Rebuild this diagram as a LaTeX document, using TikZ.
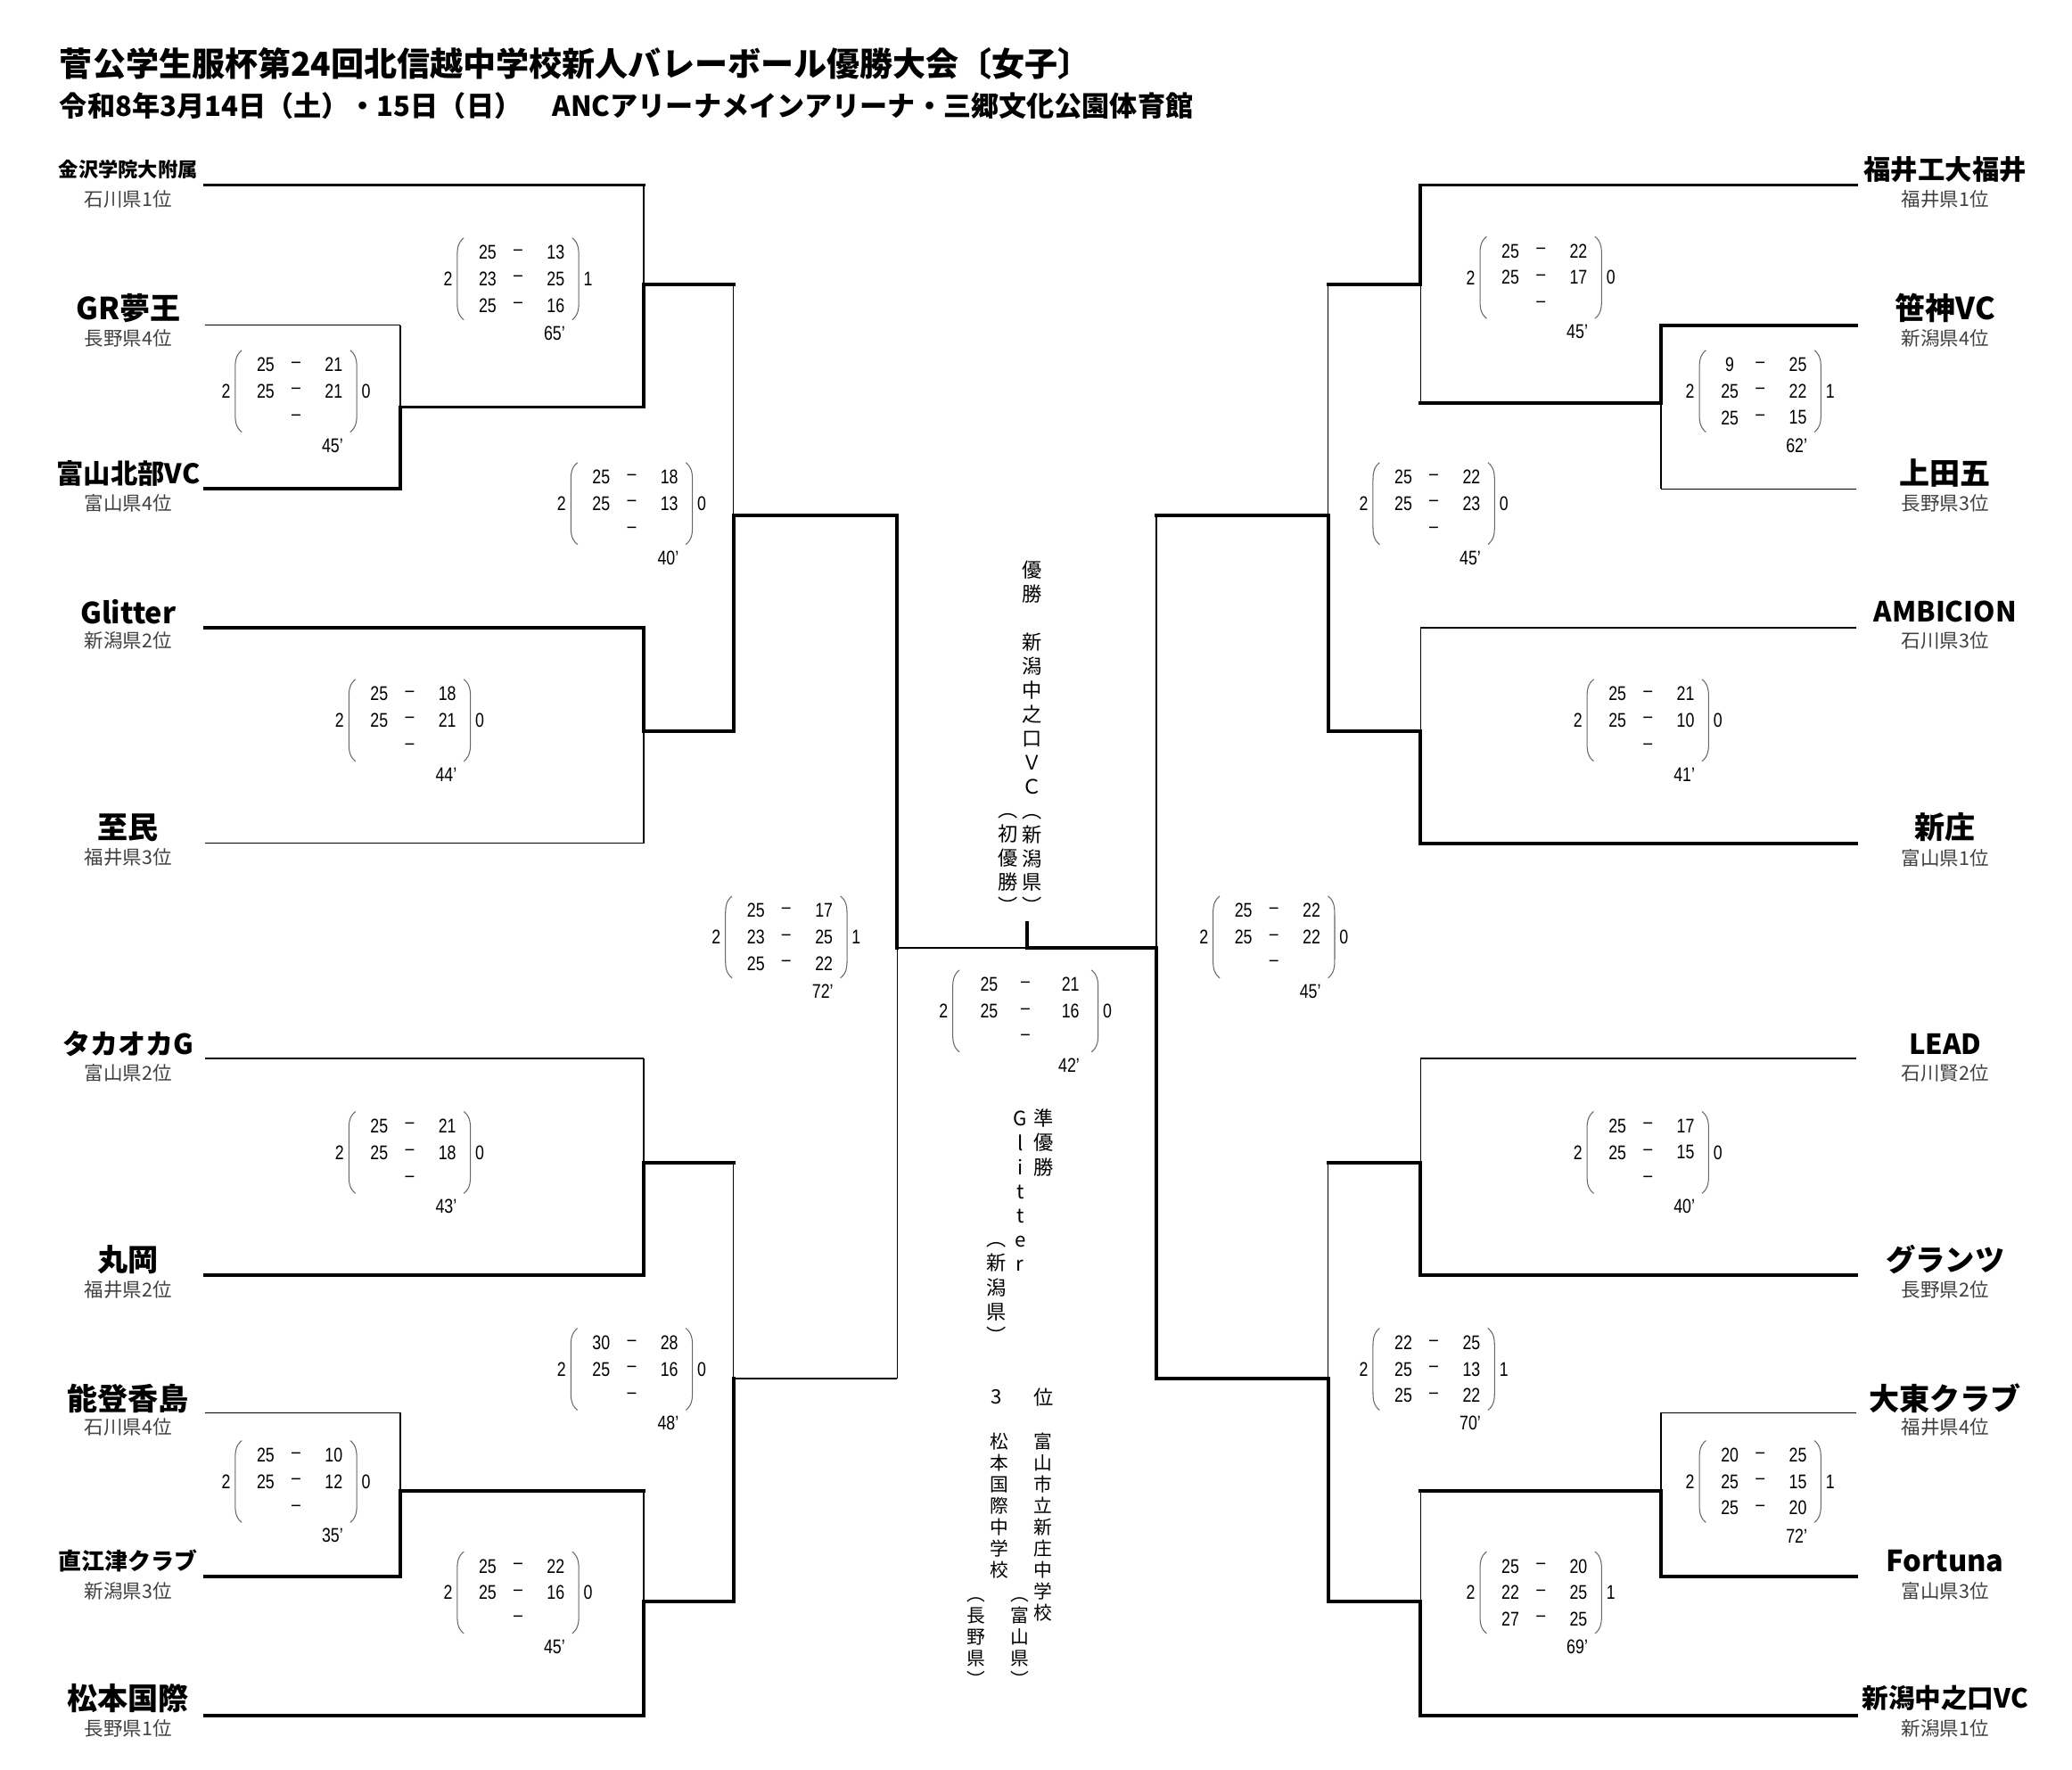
\documentclass[tikz,border=0pt]{standalone}
\usepackage{fontspec}
\setmainfont{Noto Sans CJK JP}
\newfontfamily\numfont{Liberation Sans}[FakeStretch=0.8]
\usetikzlibrary{calc}

\newcommand{\fs}[1]{\fontsize{#1}{#1}\selectfont}
\newcommand{\vs}{\vphantom{国}}

\tikzset{
  win/.style={line width=2.6pt, line cap=rect},
  lose/.style={line width=1.1pt},
  paren/.style={line width=0.7pt, black!60},
  team/.style={font=\fs{#1}\bfseries, inner sep=0},
  team/.default=23,
  pref/.style={font=\fs{14.5}, text=black!75, inner sep=0},
  pts/.style={font=\numfont\fs{15}, inner sep=0},
  vert/.style={align=center, inner sep=0, anchor=north},
}

% one match of the bracket: top, bottom, junction, then the four segment styles
\newcommand{\bout}[7]{%
  \draw[#4] (#1) -- (#1 -| #3);
  \draw[#5] (#1 -| #3) -- (#3);
  \draw[#6] (#2) -- (#2 -| #3);
  \draw[#7] (#2 -| #3) -- (#3);}

% set scores of a match
\newcommand{\scorebox}[7][46]{%
  \begin{scope}[shift={(#3)}]
    \draw[paren] (-#1+5,-31) .. controls (-#1,-27) and (-#1,-22) .. (-#1,-16) -- (-#1,16) .. controls (-#1,22) and (-#1,27) .. (-#1+5,31);
    \draw[paren] (#1-5,-31) .. controls (#1,-27) and (#1,-22) .. (#1,-16) -- (#1,16) .. controls (#1,22) and (#1,27) .. (#1-5,31);
    \node[pts] (#2-l) at (-#1-7,0) {#4};
    \node[pts] (#2-r) at (#1+7,0) {#5};
    \foreach \a/\b [count=\i] in {#6} {
      \node[pts] (#2-a\i) at (-0.5*#1,-40+20*\i) {\a};
      \node[pts] (#2-d\i) at (0,-40+20*\i) {–};
      \node[pts] (#2-b\i) at (0.62*#1,-40+20*\i) {\b};
    }
    \node[pts] (#2-t) at (0.6*#1,41) {#7};
  \end{scope}}

\begin{document}
\begin{tikzpicture}[x=1pt, y=-1pt]
\useasboundingbox (0,0) rectangle (1568,1339);

% title
\node[anchor=west, inner sep=0, font=\fs{25}\bfseries] (title) at (45,48) {菅公学生服杯第24回北信越中学校新人バレーボール優勝大会〔女子〕};
\node[anchor=west, inner sep=0, font=\fs{21}\bfseries] (date) at (45,80) {令和8年3月14日（土）・15日（日）\hspace{1.1em}ANCアリーナメインアリーナ・三郷文化公園体育館};

% left teams
\node[team=15] (kanazawa) at (97,128) {金沢学院大附属};
\node[pref] (kanazawa-p) at (97,151) {石川県1位};
\node[team] (gr) at (97,233) {GR夢王};
\node[pref] (gr-p) at (97,256) {長野県4位};
\node[team=20.5] (hokubu) at (97,358) {富山北部VC};
\node[pref] (hokubu-p) at (97,381) {富山県4位};
\node[team=22] (glitter) at (97,463) {Glitter};
\node[pref] (glitter-p) at (97,485) {新潟県2位};
\node[team] (shimin) at (97,626) {至民};
\node[pref] (shimin-p) at (97,649) {福井県3位};
\node[team=21] (takaoka) at (97,790) {タカオカG};
\node[pref] (takaoka-p) at (97,812) {富山県2位};
\node[team] (maruoka) at (97,953) {丸岡};
\node[pref] (maruoka-p) at (97,976) {福井県2位};
\node[team] (noto) at (97,1058) {能登香島};
\node[pref] (noto-p) at (97,1080) {石川県4位};
\node[team=17.5] (naoetsu) at (97,1181) {直江津クラブ};
\node[pref] (naoetsu-p) at (97,1204) {新潟県3位};
\node[team] (matsumoto) at (97,1285) {松本国際};
\node[pref] (matsumoto-p) at (97,1308) {長野県1位};

% right teams
\node[team=20.5] (fukui) at (1472,128) {福井工大福井};
\node[pref] (fukui-p) at (1472,151) {福井県1位};
\node[team] (sasakami) at (1472,233) {笹神VC};
\node[pref] (sasakami-p) at (1472,256) {新潟県4位};
\node[team] (ueda) at (1472,358) {上田五};
\node[pref] (ueda-p) at (1472,381) {長野県3位};
\node[team=21] (ambicion) at (1472,463) {AMBICION};
\node[pref] (ambicion-p) at (1472,485) {石川県3位};
\node[team] (shinjo) at (1472,626) {新庄};
\node[pref] (shinjo-p) at (1472,649) {富山県1位};
\node[team=21] (lead) at (1472,790) {LEAD};
\node[pref] (lead-p) at (1472,812) {石川賢2位};
\node[team=22.5] (grants) at (1472,953) {グランツ};
\node[pref] (grants-p) at (1472,976) {長野県2位};
\node[team] (daito) at (1472,1058) {大東クラブ};
\node[pref] (daito-p) at (1472,1080) {福井県4位};
\node[team=22] (fortuna) at (1472,1181) {Fortuna};
\node[pref] (fortuna-p) at (1472,1204) {富山県3位};
\node[team=20] (nakanokuchi) at (1472,1285) {新潟中之口VC};
\node[pref] (nakanokuchi-p) at (1472,1308) {新潟県1位};

% line ends
\coordinate (L1) at (155,140);  \coordinate (R1) at (1405,140);
\coordinate (L2) at (155,246);  \coordinate (R2) at (1405,246);
\coordinate (L3) at (155,370);  \coordinate (R3) at (1405,370);
\coordinate (L4) at (155,475);  \coordinate (R4) at (1405,475);
\coordinate (L5) at (155,638);  \coordinate (R5) at (1405,638);
\coordinate (L6) at (155,801);  \coordinate (R6) at (1405,801);
\coordinate (L7) at (155,965);  \coordinate (R7) at (1405,965);
\coordinate (L8) at (155,1069); \coordinate (R8) at (1405,1069);
\coordinate (L9) at (155,1193); \coordinate (R9) at (1405,1193);
\coordinate (L10) at (155,1298); \coordinate (R10) at (1405,1298);

% junctions
\coordinate (jA) at (303,308);  \coordinate (kA) at (1257,305);
\coordinate (jB) at (487,215);  \coordinate (kB) at (1075,215);
\coordinate (jC) at (487,553);  \coordinate (kC) at (1075,553);
\coordinate (jD) at (555,390);  \coordinate (kD) at (1005,390);
\coordinate (jE) at (487,880);  \coordinate (kE) at (1075,880);
\coordinate (jF) at (303,1128); \coordinate (kF) at (1257,1128);
\coordinate (jG) at (487,1212); \coordinate (kG) at (1075,1212);
\coordinate (jH) at (555,1043); \coordinate (kH) at (1005,1043);
\coordinate (jI) at (679,717);  \coordinate (kI) at (875,717);
\coordinate (cup) at (777,698); \coordinate (fin) at (777,717);

% left bracket
\bout{L2}{L3}{jA}{lose}{lose}{win}{win}
\bout{L1}{jA}{jB}{win}{lose}{win}{win}
\bout{L4}{L5}{jC}{win}{win}{lose}{lose}
\bout{jB}{jC}{jD}{win}{lose}{win}{win}
\bout{L6}{L7}{jE}{lose}{lose}{win}{win}
\bout{L8}{L9}{jF}{lose}{lose}{win}{win}
\bout{jF}{L10}{jG}{win}{lose}{win}{win}
\bout{jE}{jG}{jH}{win}{lose}{win}{win}
\bout{jD}{jH}{jI}{win}{win}{lose}{lose}

% right bracket
\bout{R2}{R3}{kA}{win}{win}{lose}{lose}
\bout{R1}{kA}{kB}{win}{win}{win}{lose}
\bout{R4}{R5}{kC}{lose}{lose}{win}{win}
\bout{kB}{kC}{kD}{win}{lose}{win}{win}
\bout{R6}{R7}{kE}{lose}{lose}{win}{win}
\bout{R8}{R9}{kF}{lose}{lose}{win}{win}
\bout{kF}{R10}{kG}{win}{lose}{win}{win}
\bout{kE}{kG}{kH}{win}{lose}{win}{win}
\bout{kD}{kH}{kI}{win}{lose}{win}{win}

% final
\draw[lose] (jI) -- (fin);
\draw[win] (cup) -- (fin) -- (kI);

% scores, left
\scorebox{sA}{224,296}{2}{0}{25/21,25/21,{}/{}}{45’}
\scorebox{sB}{392,211}{2}{1}{25/13,23/25,25/16}{65’}
\scorebox{sC}{310,545}{2}{0}{25/18,25/21,{}/{}}{44’}
\scorebox{sD}{478,381}{2}{0}{25/18,25/13,{}/{}}{40’}
\scorebox{sE}{310,872}{2}{0}{25/21,25/18,{}/{}}{43’}
\scorebox{sF}{224,1121}{2}{0}{25/10,25/12,{}/{}}{35’}
\scorebox{sG}{392,1205}{2}{0}{25/22,25/16,{}/{}}{45’}
\scorebox{sH}{478,1036}{2}{0}{30/28,25/16,{}/{}}{48’}
\scorebox{sI}{595,709}{2}{1}{25/17,23/25,25/22}{72’}
% scores, right
\scorebox{tA}{1332,296}{2}{1}{9/25,25/22,25/15}{62’}
\scorebox{tB}{1166,210}{2}{0}{25/22,25/17,{}/{}}{45’}
\scorebox{tC}{1247,545}{2}{0}{25/21,25/10,{}/{}}{41’}
\scorebox{tD}{1085,381}{2}{0}{25/22,25/23,{}/{}}{45’}
\scorebox{tE}{1247,872}{2}{0}{25/17,25/15,{}/{}}{40’}
\scorebox{tF}{1332,1121}{2}{1}{20/25,25/15,25/20}{72’}
\scorebox{tG}{1166,1205}{2}{1}{25/20,22/25,27/25}{69’}
\scorebox{tH}{1085,1036}{2}{1}{22/25,25/13,25/22}{70’}
\scorebox{tI}{964,709}{2}{0}{25/22,25/22,{}/{}}{45’}
% final score
\scorebox[55]{sFinal}{776,765}{2}{0}{25/21,25/16,{}/{}}{42’}

% results in the middle
\node[vert, font=\fontsize{15}{18.2}\selectfont] (champ) at (781,424) {\vs 優\\勝\\[18.2pt]新\\潟\\中\\之\\口\\Ｖ\\Ｃ\\︵\\新\\潟\\県\\︶};
\node[vert, font=\fontsize{15}{18.2}\selectfont] (champ-n) at (763,606) {\vs︵\\初\\優\\勝\\︶};
\node[vert, font=\fontsize{15}{18.4}\selectfont] (second) at (790,839) {\vs 準\\優\\勝};
\node[vert, font=\fontsize{15}{18.3}\selectfont] (second-t) at (772,840) {\vs G\\l\\i\\t\\t\\e\\r};
\node[vert, font=\fontsize{15}{18.3}\selectfont] (second-p) at (754,931) {\vs︵\\新\\潟\\県\\︶};
\node[inner sep=0, font=\fs{15}] (third-a) at (754,1057) {3};
\node[inner sep=0, font=\fs{15}] (third-b) at (790,1057) {位};
\node[vert, font=\fontsize{14}{16.2}\selectfont] (third1) at (789,1084) {\vs 富\\山\\市\\立\\新\\庄\\中\\学\\校};
\node[vert, font=\fontsize{14}{16.2}\selectfont] (third1-p) at (772,1200) {\vs︵\\富\\山\\県\\︶};
\node[vert, font=\fontsize{14}{16.2}\selectfont] (third2) at (756,1084) {\vs 松\\本\\国\\際\\中\\学\\校};
\node[vert, font=\fontsize{14}{16.2}\selectfont] (third2-p) at (739,1200) {\vs︵\\長\\野\\県\\︶};
\end{tikzpicture}
\end{document}
